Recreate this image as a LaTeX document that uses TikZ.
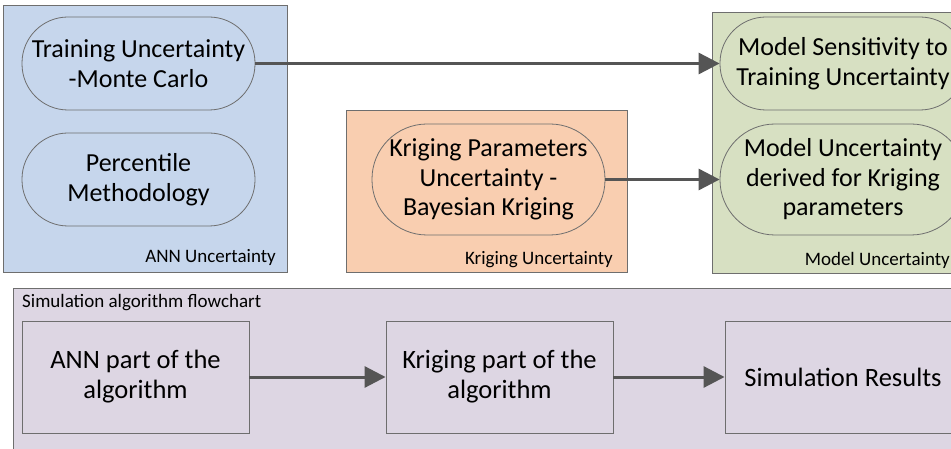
\documentclass[tikz,border=0pt]{standalone}
\usepackage{fontspec}
\setmainfont{Carlito}
\usetikzlibrary{arrows.meta}
\definecolor{annfill}{RGB}{198,214,236}
\definecolor{krigfill}{RGB}{249,206,176}
\definecolor{modelfill}{RGB}{215,224,194}
\definecolor{simfill}{RGB}{221,214,227}
\definecolor{edgegray}{RGB}{110,110,110}
\definecolor{arrowgray}{RGB}{85,85,85}
\tikzset{
  group/.style={draw=edgegray, line width=0.9pt},
  pill/.style={draw=edgegray, line width=0.8pt, rounded corners=46pt,
    inner sep=0pt, align=center, font=\fontsize{26}{29.5}\selectfont},
  stepbox/.style={draw=edgegray, line width=0.9pt, inner sep=0pt,
    minimum width=227pt, minimum height=112pt, align=center,
    font=\fontsize{26.5}{30}\selectfont},
  grouplabel/.style={font=\fontsize{19}{22}\selectfont, inner sep=0pt},
  flow/.style={draw=arrowgray, line width=3pt,
    -{Triangle[length=21pt,width=21pt]}}
}
\begin{document}
\begin{tikzpicture}[x=1pt,y=-1pt]
\useasboundingbox (0,0) rectangle (951,449);
\begin{scope}
\clip (0,0) rectangle (951,449);
% container boxes
\fill[white] (0,0) rectangle (951,449);
\draw[group, fill=annfill] (3,5) rectangle (287,272);
\draw[group, fill=krigfill] (346,110) rectangle (627,272);
\draw[group, fill=modelfill] (712,12) rectangle (990,273);
\draw[group, fill=simfill] (13,288) rectangle (990,460);

% group captions
\node[grouplabel, anchor=east] (annlbl) at (276,257) {ANN Uncertainty};
\node[grouplabel, anchor=east] (kriglbl) at (613,260) {Kriging Uncertainty};
\node[grouplabel, anchor=east] (modellbl) at (950,260) {Model Uncertainty};
\node[grouplabel, anchor=west] (simlbl) at (22,303) {Simulation algorithm flowchart};

% uncertainty nodes
\node[pill, fill=annfill, minimum width=233pt, minimum height=93pt] (train) at (138.5,63.5)
  {Training Uncertainty\\-Monte Carlo};
\node[pill, fill=annfill, minimum width=233pt, minimum height=93pt] (perc) at (138.5,179.5)
  {Percentile\\Methodology};
\node[pill, fill=krigfill, minimum width=233pt, minimum height=111pt, rounded corners=55pt] (krig) at (488.5,179.5)
  {Kriging Parameters\\Uncertainty -\\Bayesian Kriging};
\node[pill, fill=modelfill, minimum width=246pt, minimum height=93pt] (sens) at (843,63.5)
  {Model Sensitivity to\\Training Uncertainty};
\node[pill, fill=modelfill, minimum width=246pt, minimum height=111pt, rounded corners=55pt] (munc) at (843,179.5)
  {Model Uncertainty\\derived for Kriging\\parameters};

% flowchart steps
\node[stepbox, fill=simfill] (annstep) at (135.5,377) {ANN part of the\\algorithm};
\node[stepbox, fill=simfill] (krigstep) at (499.5,377) {Kriging part of the\\algorithm};
\node[stepbox, fill=simfill, minimum width=236pt] (results) at (843,377) {Simulation Results};

% connectors
\draw[flow] (train.east) -- (sens.west);
\draw[flow] (krig.east) -- (munc.west);
\draw[flow] (annstep.east) -- (krigstep.west);
\draw[flow] (krigstep.east) -- (results.west);
\end{scope}
\end{tikzpicture}
\end{document}
